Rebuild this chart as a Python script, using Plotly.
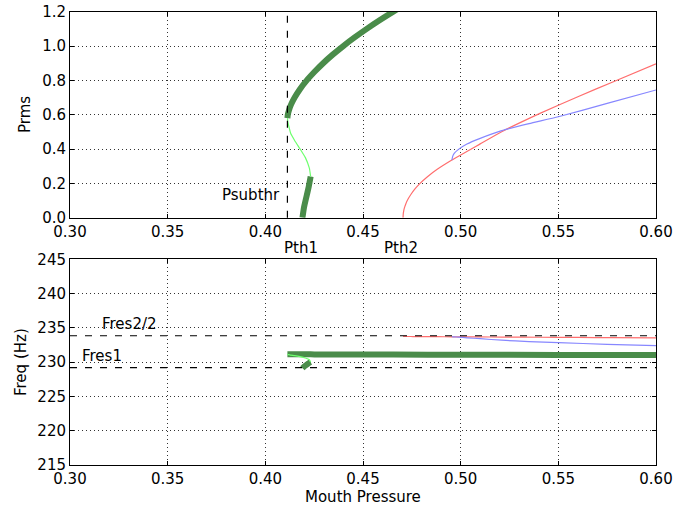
import plotly.graph_objects as go

# ---------------- data ----------------
# green branch (stable lower part, thick)
P_GREEN_LOW = [0.4190, 0.4198, 0.4210, 0.4222, 0.4232]
PRMS_GREEN_LOW = [0.00, 0.06, 0.12, 0.18, 0.24]
FREQ_GREEN_LOW = [229.1, 229.35, 229.6, 229.85, 230.0]

# green branch (unstable part, thin)
P_GREEN_UNST = [0.4232, 0.4225, 0.4205, 0.4178, 0.4150, 0.4130, 0.4123, 0.4115, 0.4113]
PRMS_GREEN_UNST = [0.24, 0.29, 0.35, 0.40, 0.45, 0.49, 0.52, 0.56, 0.58]
FREQ_GREEN_UNST = [230.0, 230.35, 230.6, 230.8, 230.95, 231.03, 231.08, 231.13, 231.15]

# green branch (stable upper part, thick)
P_GREEN_UP = [0.4113, 0.4115, 0.4122, 0.4132, 0.4150, 0.4178, 0.4212, 0.4252, 0.4296,
              0.4345, 0.4399, 0.4457, 0.4519, 0.4585, 0.4655, 0.5000, 0.5500, 0.6000]
PRMS_GREEN_UP = [0.58, 0.60, 0.63, 0.66, 0.70, 0.75, 0.80, 0.85, 0.90,
                 0.95, 1.00, 1.05, 1.10, 1.15, 1.20, 1.43, 1.68, 1.91]
FREQ_GREEN_UP = [231.15, 231.15, 231.15, 231.15, 231.14, 231.14, 231.14, 231.13, 231.13,
                 231.13, 231.12, 231.12, 231.11, 231.11, 231.10, 231.08, 231.06, 231.05]

# red branch
P_RED = [0.4705, 0.4706, 0.4708, 0.4712, 0.4720, 0.4730, 0.4745, 0.4765, 0.4792,
         0.4830, 0.4880, 0.4955, 0.5100, 0.5210, 0.5406, 0.5600, 0.5782, 0.6000]
PRMS_RED = [0.0, 0.021, 0.037, 0.057, 0.083, 0.107, 0.135, 0.166, 0.200,
            0.239, 0.282, 0.336, 0.43, 0.501, 0.608, 0.705, 0.792, 0.896]
FREQ_RED = [233.75, 233.75, 233.75, 233.75, 233.75, 233.74, 233.74, 233.73, 233.72,
            233.72, 233.71, 233.70, 233.68, 233.66, 233.63, 233.60, 233.58, 233.55]

# blue branch
P_BLUE = [0.4955, 0.4960, 0.4967, 0.4989, 0.5032, 0.5100, 0.5210, 0.5350,
          0.5500, 0.5750, 0.6000]
PRMS_BLUE = [0.336, 0.36, 0.375, 0.398, 0.429, 0.462, 0.507, 0.548,
             0.588, 0.666, 0.744]
FREQ_BLUE = [233.70, 233.70, 233.68, 233.65, 233.55, 233.42, 233.20, 233.00,
             232.85, 232.60, 232.40]

# reference values
PSUBTHR = 0.4113
PTH1 = 0.4185
PTH2 = 0.4697
FRES1 = 229.2
FRES2_HALF = 233.85

X_TICKS = [0.30, 0.35, 0.40, 0.45, 0.50, 0.55, 0.60]
PRMS_TICKS = [0.0, 0.2, 0.4, 0.6, 0.8, 1.0, 1.2]
FREQ_TICKS = [215, 220, 225, 230, 235, 240, 245]

# ---------------- styles ----------------
FONT = "DejaVu Sans"
FS = 15
DARK_GREEN = "rgb(74,140,74)"
LIGHT_GREEN = "rgb(110,255,110)"
RED = "rgb(255,110,110)"
BLUE = "rgb(135,135,255)"
THICK = 6
THIN = 1.2

W, H = 673, 511
XL, XR = 70, 656
TOP_T, TOP_B = 11.7, 217.7
BOT_T, BOT_B = 259.3, 465

fig = go.Figure()

def add(x, y, color, width, row):
    fig.add_trace(go.Scatter(
        x=x, y=y, mode="lines",
        line=dict(color=color, width=width, shape="spline", smoothing=0.5),
        xaxis="x" if row == 1 else "x2",
        yaxis="y" if row == 1 else "y2",
        showlegend=False, hoverinfo="skip"))

# top panel
add(P_GREEN_LOW, PRMS_GREEN_LOW, DARK_GREEN, THICK, 1)
add(P_GREEN_UP, PRMS_GREEN_UP, DARK_GREEN, THICK, 1)
add(P_GREEN_UNST, PRMS_GREEN_UNST, LIGHT_GREEN, THIN, 1)
add(P_RED, PRMS_RED, RED, THIN, 1)
add(P_BLUE, PRMS_BLUE, BLUE, THIN, 1)
# bottom panel
add(P_GREEN_LOW, FREQ_GREEN_LOW, DARK_GREEN, THICK, 2)
add(P_GREEN_UP, FREQ_GREEN_UP, DARK_GREEN, THICK, 2)
add(P_GREEN_UNST, FREQ_GREEN_UNST, LIGHT_GREEN, THIN, 2)
add(P_RED, FREQ_RED, RED, THIN, 2)
add(P_BLUE, FREQ_BLUE, BLUE, THIN, 2)

DASH = "7px,8px"
fig.add_shape(type="line", xref="x", yref="y domain", x0=PSUBTHR, x1=PSUBTHR,
              y0=0, y1=1, line=dict(color="black", width=1.2, dash=DASH), layer="above")
for f in (FRES1, FRES2_HALF):
    fig.add_shape(type="line", xref="x2 domain", yref="y2", x0=0, x1=1,
                  y0=f, y1=f, line=dict(color="black", width=1.2, dash=DASH), layer="above")

xdom = [XL / W, XR / W]
axis_common = dict(
    showline=True, linecolor="black", linewidth=1, mirror="allticks",
    ticks="inside", ticklen=4, tickwidth=1, tickcolor="black",
    showgrid=True, gridcolor="black", gridwidth=0.8, griddash="1px,3px",
    zeroline=False, automargin=False,
    tickfont=dict(family=FONT, size=FS, color="black"),
)

fig.update_layout(
    width=W, height=H,
    margin=dict(l=0, r=0, t=0, b=0, autoexpand=False),
    paper_bgcolor="white", plot_bgcolor="white",
    font=dict(family=FONT, size=FS, color="black"),
    xaxis=dict(domain=xdom, range=[0.30, 0.60], tickvals=X_TICKS,
               ticktext=[f"{v:.2f}" for v in X_TICKS], anchor="y", **axis_common),
    yaxis=dict(domain=[1 - TOP_B / H, 1 - TOP_T / H], range=[0, 1.2],
               tickvals=PRMS_TICKS, ticktext=[f"{v:.1f}" for v in PRMS_TICKS],
               anchor="x", **axis_common),
    xaxis2=dict(domain=xdom, range=[0.30, 0.60], tickvals=X_TICKS,
                ticktext=[f"{v:.2f}" for v in X_TICKS], anchor="y2", **axis_common),
    yaxis2=dict(domain=[1 - BOT_B / H, 1 - BOT_T / H], range=[215, 245],
                tickvals=FREQ_TICKS, ticktext=[str(v) for v in FREQ_TICKS],
                anchor="x2", **axis_common),
)

ann = []
def txt(text, x, y, xref, yref, xanchor="center", yanchor="middle", angle=0):
    ann.append(dict(text=text, x=x, y=y, xref=xref, yref=yref, showarrow=False,
                    xanchor=xanchor, yanchor=yanchor, textangle=angle,
                    font=dict(family=FONT, size=FS, color="black")))

txt("Psubthr", 0.377, 0.131, "x", "y", xanchor="left")
txt("Pth1", PTH1, 1 - 247.7 / H, "x", "paper")
txt("Pth2", PTH2, 1 - 247.7 / H, "x", "paper")
txt("Fres2/2", 0.3154, 235.5, "x2", "y2", xanchor="left")
txt("Fres1", 0.3051, 230.87, "x2", "y2", xanchor="left")
txt("Prms", 25 / W, 1 - 115 / H, "paper", "paper", angle=-90)
txt("Freq (Hz)", 21 / W, 1 - 362 / H, "paper", "paper", angle=-90)
txt("Mouth Pressure", (XL + XR) / 2 / W, 1 - 497 / H, "paper", "paper")
fig.update_layout(annotations=ann)

fig.write_html(
    "out.html",
    config={"displayModeBar": False, "staticPlot": True},
    post_script="document.body.style.margin='0px';document.body.style.padding='0px';"
                "document.body.style.overflow='hidden';",
)
